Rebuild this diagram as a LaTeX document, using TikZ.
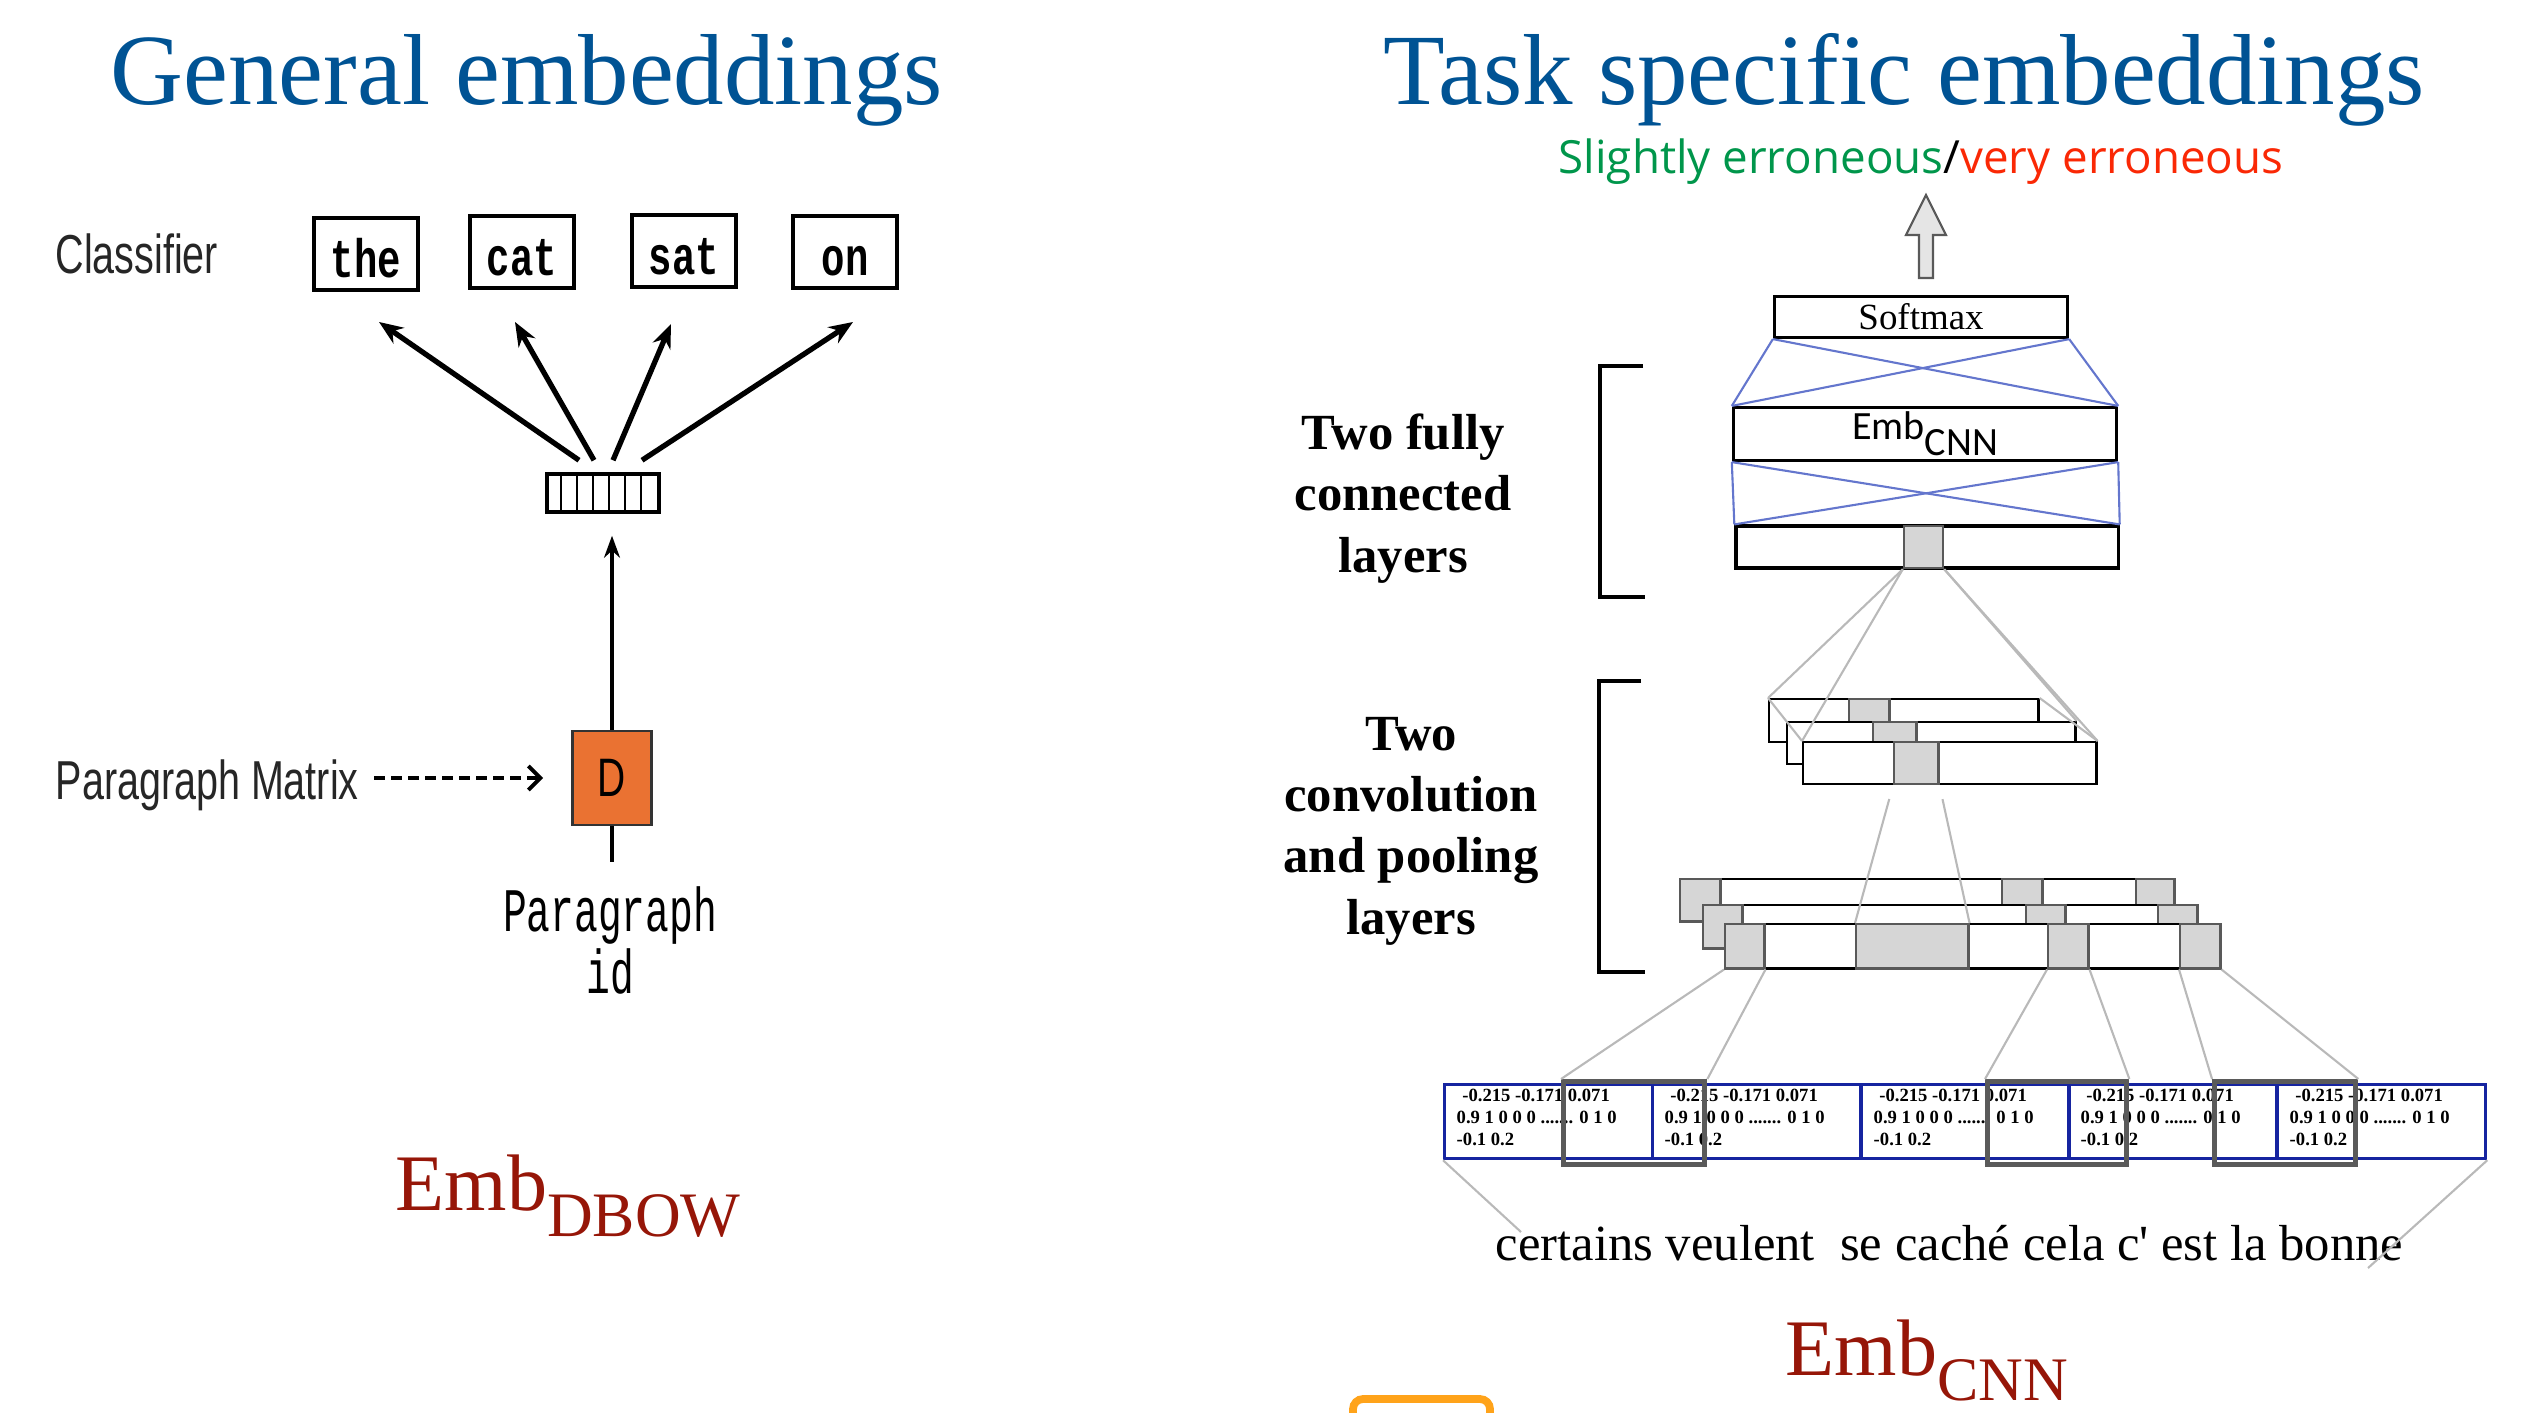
\documentclass[tikz,border=0pt]{standalone}
\usepackage{fontspec}
\usepackage{graphicx}
\setmainfont{Liberation Serif}
\newfontfamily\arialfont{Liberation Sans}
\newfontfamily\courfont{Liberation Mono}
\newfontfamily\handfont{Open Sans}
\newfontfamily\calfont{Carlito}
\usetikzlibrary{arrows.meta}

\definecolor{titleblue}{RGB}{0,83,148}
\definecolor{okgreen}{RGB}{0,150,75}
\definecolor{badred}{RGB}{250,40,5}
\definecolor{embred}{RGB}{150,22,8}
\definecolor{dorange}{RGB}{234,114,50}
\definecolor{boxorange}{RGB}{255,163,26}
\definecolor{fcblue}{RGB}{100,118,205}
\definecolor{projgray}{RGB}{185,185,185}
\definecolor{cellgray}{RGB}{214,214,214}
\definecolor{wingray}{RGB}{90,90,90}
\definecolor{embblue}{RGB}{22,36,160}

\newcommand{\squeeze}[1]{\scalebox{.72}[1]{#1}}
\newcommand{\embnums}{\hspace{.3em}-0.215 -0.171 0.071\\0.9 1 0 0 0 ....... 0 1 0\\-0.1 0.2}

\begin{document}
\begin{tikzpicture}[x=0.01cm, y=-0.01cm,
  title/.style={font=\fontsize{28.7}{34}\selectfont, text=titleblue, inner sep=0pt, anchor=base west},
  side/.style={font=\arialfont\fontsize{15.6}{18}\selectfont, text=black!85, inner sep=0pt, anchor=base west},
  word/.style={draw, line width=1.1pt, minimum width=1.04cm, minimum height=.72cm, inner sep=0pt,
    text height=4.6mm, text depth=0pt, font=\courfont\bfseries\fontsize{15.4}{18}\selectfont},
  fan/.style={line width=1.5pt, -{Stealth[length=2.4mm,width=1.9mm]}},
  layer/.style={draw, line width=.7pt, fill=white, inner sep=0pt, anchor=north west},
  cell/.style={draw=black!65, line width=.7pt, fill=cellgray, inner sep=0pt, anchor=north west},
  proj/.style={draw=projgray, line width=.6pt},
  dense/.style={draw=fcblue, line width=.6pt},
  embcell/.style={draw=embblue, line width=.9pt, inner sep=0pt, anchor=north west, minimum width=2.08cm, minimum height=.74cm},
  window/.style={draw=wingray, line width=1.5pt, inner sep=0pt, anchor=north west, minimum height=.83cm},
  lab/.style={font=\bfseries\fontsize{14.4}{17.4}\selectfont, align=center, inner sep=0pt, anchor=base},
  embsub/.style={text=embred, inner sep=0pt, anchor=base west, font=\fontsize{22.8}{26}\selectfont}
]
\useasboundingbox (0,0) rectangle (2537,1412);
\clip (0,0) rectangle (2537,1412);

\node[title] (gen) at (110,104) {General embeddings};
\node[title] (task) at (1383,104) {Task specific embeddings};

% doc2vec side
\node[side] (cls) at (55,273) {\squeeze{Classifier}};
\node[word] (the) at (366,254) {\squeeze{the}};
\node[word] (cat) at (522,252) {\squeeze{cat}};
\node[word] (sat) at (684,251) {\squeeze{sat}};
\node[word] (on) at (845,252) {\squeeze{on}};

\node[draw, line width=1pt, minimum width=1.12cm, minimum height=.38cm, inner sep=0pt] (vec) at (603,493) {};
\foreach \i in {1,...,6}
  \draw[line width=.6pt] ([xshift=\i*1.6mm]vec.south west) -- ([xshift=\i*1.6mm]vec.north west);

\draw[fan] ([xshift=-2.4mm,yshift=1.2mm]vec.north) -- ([xshift=1.3mm,yshift=-3mm]the.south);
\draw[fan] ([xshift=-.9mm,yshift=1.2mm]vec.north) -- ([xshift=-.7mm,yshift=-3.2mm]cat.south);
\draw[fan] ([xshift=1mm,yshift=1.2mm]vec.north) -- ([xshift=-1.3mm,yshift=-3.5mm]sat.south);
\draw[fan] ([xshift=3.9mm,yshift=1.2mm]vec.north) -- ([xshift=.8mm,yshift=-3.2mm]on.south);

\node[draw=black!80, line width=.8pt, fill=dorange, minimum width=.79cm, minimum height=.94cm, inner sep=0pt,
  font=\arialfont\fontsize{15.4}{18}\selectfont] (D) at (612,778) {\squeeze{D}\hspace{2.2mm}};
\draw[line width=.9pt, shorten >=2.2mm, -{Stealth[length=2.2mm,width=1.6mm]}] (D.north) -- (D.north |- vec.south);
\draw[line width=.9pt] (D.south) -- ++(0,36);

\node[side] (pmat) at (55,799) {\squeeze{Paragraph Matrix}};
\draw[line width=1.1pt, dash pattern=on 1.1mm off .6mm, shorten <=1.5mm, shorten >=2.8mm,
  -{Straight Barb[length=1.2mm,width=2.4mm]}] (pmat.east |- D.west) -- (D.west);

\node[font=\courfont\fontsize{17.6}{17.4}\selectfont, align=center, anchor=base, inner sep=0pt] (pid) at (610,993)
  {\scalebox{.64}[1]{Paragraph}\\\scalebox{.64}[1]{id}};

\node[embsub] (dbow) at (395,1210) {Emb\raisebox{-2.6mm}{\fontsize{18}{20}\selectfont DBOW}};

% cnn side
\node[font=\handfont\fontsize{13}{15}\selectfont, inner sep=0pt, anchor=base west] (out) at (1558,173)
  {\textcolor{okgreen}{Slightly erroneous}/\textcolor{badred}{very erroneous}};
\draw[draw=black!65, fill=black!10, line width=.6pt] (1919,278) -- (1919,235) -- (1906,235) -- (1926,195)
  -- (1946,235) -- (1933,235) -- (1933,278) -- cycle;

\node[draw, line width=.9pt, minimum width=2.93cm, minimum height=.41cm, inner sep=0pt,
  font=\fontsize{10.5}{12}\selectfont] (soft) at (1921,317) {Softmax};
\node[draw, line width=.9pt, minimum width=3.83cm, minimum height=.53cm, inner sep=0pt,
  font=\calfont\fontsize{11.4}{13}\selectfont] (embc) at (1925,434) {Emb\raisebox{-1.6mm}{CNN}};
\node[draw, line width=.9pt, minimum width=3.82cm, minimum height=.42cm, inner sep=0pt] (fc3) at (1927,547) {};
\node[cell, anchor=center, minimum width=.39cm, minimum height=.42cm] (fc3c) at (1923.5,547) {};

\foreach \a in {west,east}
  \foreach \b in {west,east} {
    \draw[dense] (soft.south \a) -- (embc.north \b);
    \draw[dense] (embc.south \a) -- (fc3.north \b);
  }

\draw[line width=.9pt] (1643,366) -- (1600,366) -- (1600,597) -- (1645,597);
\node[lab] (fclab) at (1403,572) {Two fully\\connected\\layers};
\draw[line width=.9pt] (1641,681) -- (1599,681) -- (1599,972) -- (1645,972);
\node[lab] (convlab) at (1411,934) {Two\\convolution\\and pooling\\layers};

\node[layer, minimum width=2.69cm, minimum height=.43cm] (u1) at (1768,698) {};
\node[cell, minimum width=.40cm, minimum height=.43cm] (u1c) at (1848,698) {};
\node[layer, minimum width=2.88cm, minimum height=.42cm] (u2) at (1786,721) {};
\node[cell, minimum width=.43cm, minimum height=.42cm] (u2c) at (1872,721) {};
\node[layer, minimum width=2.93cm, minimum height=.42cm] (u3) at (1802,741) {};
\node[cell, minimum width=.44cm, minimum height=.42cm] (u3c) at (1893,741) {};

\draw[proj] (fc3c.south west) -- (u1.north west);
\draw[proj] (fc3c.south west) -- (u3.north west);
\draw[proj] (fc3c.south east) -- (u2.north east);
\draw[proj] (fc3c.south east) -- (u3.north east);
\draw[proj] (u1.north west) -- (u3.north west);
\draw[proj] (u1.north east) -- (u3.north east);

\node[layer, minimum width=4.94cm, minimum height=.42cm] (l1) at (1679,878) {};
\foreach \x/\w in {1679/.40,2001/.40,2135/.38}
  \node[cell, minimum width=\w cm, minimum height=.42cm] at (\x,878) {};
\node[layer, minimum width=4.94cm, minimum height=.43cm] (l2) at (1702,904) {};
\foreach \x/\w in {1702/.39,2025/.39,2157/.39}
  \node[cell, minimum width=\w cm, minimum height=.43cm] at (\x,904) {};
\node[layer, minimum width=4.95cm, minimum height=.44cm] (l3) at (1724,923) {};
\node[cell, minimum width=.39cm, minimum height=.44cm] (l3a) at (1724,923) {};
\node[cell, minimum width=1.12cm, minimum height=.44cm] (l3b) at (1855,923) {};
\node[cell, minimum width=.40cm, minimum height=.44cm] (l3c) at (2047,923) {};
\node[cell, minimum width=.40cm, minimum height=.44cm] (l3d) at (2179,923) {};

\draw[proj, shorten <=1.4mm] (u3c.south west) -- (l3b.north west);
\draw[proj, shorten <=1.4mm] (u3c.south east) -- (l3b.north east);

\foreach \x [count=\i] in {1443,1651,1860,2067,2276} {
  \node[embcell] (e\i) at (\x,1083) {};
  \node[font=\bfseries\fontsize{5.3}{6.2}\selectfont, align=left, inner sep=0pt, anchor=base west] at (\x+13,1145) {\embnums};
}
\node[window, minimum width=1.41cm] (w1) at (1561,1079) {};
\node[window, minimum width=1.39cm] (w2) at (1985,1079) {};
\node[window, minimum width=1.41cm] (w3) at (2212,1079) {};

\draw[proj] (l3a.south west) -- (w1.north west);
\draw[proj] (l3a.south east) -- (w1.north east);
\draw[proj] (l3c.south west) -- (w2.north west);
\draw[proj] (l3c.south east) -- (w2.north east);
\draw[proj] (l3d.south west) -- (w3.north west);
\draw[proj] (l3d.south east) -- (w3.north east);

\node[font=\fontsize{14.4}{17}\selectfont, inner sep=0pt, anchor=base west] (sent) at (1495,1260)
  {certains veulent~ se caché cela c\textquotesingle{} est la bonne};
\coordinate (sl) at (1521,1232);
\coordinate (sr) at (2368,1268);
\draw[proj] (e1.south west) -- (sl);
\draw[proj] (e5.south east) -- (sr);

\node[embsub] (cnn) at (1785,1375) {Emb\raisebox{-2.5mm}{\fontsize{17.6}{20}\selectfont CNN}};
\draw[boxorange, line width=2.2pt, rounded corners=1mm] (1353,1460) -- (1353,1399) -- (1490,1399) -- (1490,1460);
\end{tikzpicture}
\end{document}
